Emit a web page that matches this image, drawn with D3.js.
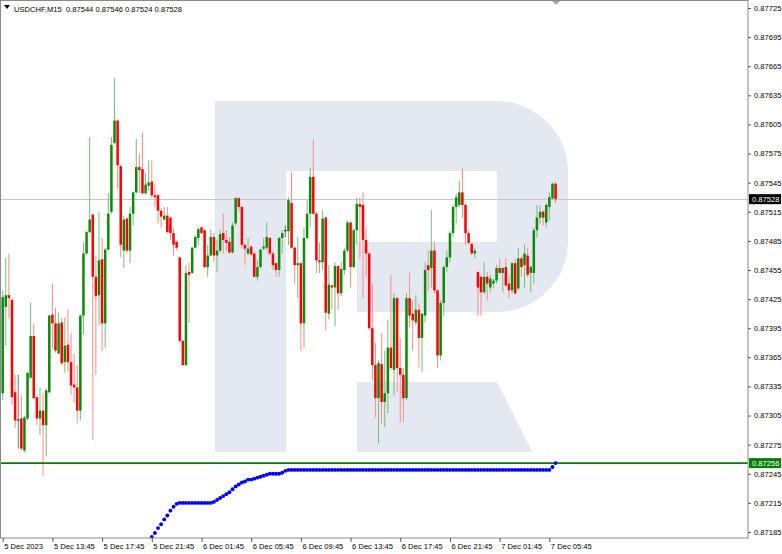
<!DOCTYPE html>
<html><head><meta charset="utf-8">
<script src="https://cdn.jsdelivr.net/npm/d3@7"></script>
<style>body{margin:0;background:#fff}svg{display:block}</style>
</head><body><svg id="c" width="782" height="554"></svg>
<script>
// ---------------- DATA ----------------
const symbol = "USDCHF,M15";
const lastQuote = ["0.87544", "0.87546", "0.87524", "0.87528"];
const startTime = "2023-12-05T09:45";   // first bar, 15-minute bars

const open = [0.87328,0.87417,0.87429,0.87424,0.87329,0.87301,0.87302,0.87269,0.87302,0.87344,
0.87387,0.87324,0.87302,0.87310,0.87295,0.87329,0.87409,0.87400,0.87369,0.87401,
0.87360,0.87378,0.87360,0.87337,0.87334,0.87310,0.87408,0.87472,0.87494,0.87512,
0.87448,0.87429,0.87466,0.87400,0.87476,0.87515,0.87586,0.87609,0.87562,0.87475,
0.87508,0.87475,0.87513,0.87535,0.87561,0.87559,0.87534,0.87542,0.87546,0.87532,
0.87532,0.87516,0.87507,0.87511,0.87509,0.87493,0.87484,0.87468,0.87382,0.87357,
0.87453,0.87452,0.87478,0.87488,0.87499,0.87496,0.87458,0.87470,0.87489,0.87470,
0.87475,0.87493,0.87486,0.87484,0.87473,0.87503,0.87529,0.87520,0.87481,0.87472,
0.87479,0.87472,0.87448,0.87458,0.87477,0.87478,0.87488,0.87472,0.87462,0.87455,
0.87488,0.87496,0.87495,0.87524,0.87478,0.87460,0.87462,0.87400,0.87488,0.87513,
0.87551,0.87513,0.87465,0.87463,0.87509,0.87410,0.87439,0.87437,0.87459,0.87431,
0.87455,0.87475,0.87504,0.87458,0.87496,0.87523,0.87522,0.87486,0.87472,0.87395,
0.87357,0.87323,0.87358,0.87319,0.87328,0.87375,0.87352,0.87426,0.87354,0.87347,
0.87323,0.87426,0.87410,0.87401,0.87414,0.87385,0.87408,0.87460,0.87457,0.87475,
0.87434,0.87367,0.87421,0.87458,0.87468,0.87493,0.87520,0.87522,0.87535,0.87522,
0.87493,0.87482,0.87472,0.87453,0.87448,0.87432,0.87448,0.87437,0.87441,0.87444,
0.87457,0.87452,0.87458,0.87441,0.87434,0.87462,0.87436,0.87467,0.87460,0.87470,
0.87452,0.87452,0.87496,0.87509,0.87515,0.87504,0.87520,0.87529,0.87544];

const high = [0.87434,0.87468,0.87472,0.87426,0.87347,0.87347,0.87326,0.87305,0.87350,0.87421,
0.87400,0.87325,0.87334,0.87328,0.87333,0.87409,0.87441,0.87416,0.87411,0.87406,
0.87406,0.87414,0.87390,0.87369,0.87357,0.87409,0.87483,0.87495,0.87592,0.87513,
0.87470,0.87515,0.87488,0.87478,0.87534,0.87592,0.87653,0.87610,0.87563,0.87511,
0.87509,0.87520,0.87536,0.87590,0.87575,0.87597,0.87555,0.87568,0.87568,0.87544,
0.87534,0.87519,0.87520,0.87520,0.87510,0.87498,0.87485,0.87469,0.87383,0.87460,
0.87463,0.87479,0.87491,0.87499,0.87500,0.87497,0.87481,0.87497,0.87493,0.87486,
0.87496,0.87513,0.87496,0.87489,0.87504,0.87530,0.87530,0.87521,0.87483,0.87488,
0.87481,0.87473,0.87465,0.87477,0.87488,0.87504,0.87489,0.87475,0.87463,0.87489,
0.87496,0.87501,0.87530,0.87556,0.87479,0.87489,0.87463,0.87499,0.87527,0.87560,
0.87590,0.87515,0.87483,0.87517,0.87510,0.87460,0.87440,0.87463,0.87460,0.87463,
0.87478,0.87506,0.87505,0.87498,0.87530,0.87530,0.87535,0.87499,0.87473,0.87441,
0.87380,0.87362,0.87390,0.87372,0.87404,0.87450,0.87431,0.87427,0.87385,0.87354,
0.87431,0.87452,0.87424,0.87429,0.87421,0.87411,0.87463,0.87475,0.87517,0.87484,
0.87435,0.87424,0.87460,0.87475,0.87495,0.87522,0.87534,0.87547,0.87560,0.87524,
0.87495,0.87483,0.87478,0.87454,0.87449,0.87463,0.87453,0.87450,0.87446,0.87460,
0.87467,0.87458,0.87467,0.87450,0.87463,0.87467,0.87478,0.87469,0.87481,0.87478,
0.87460,0.87499,0.87522,0.87522,0.87517,0.87524,0.87535,0.87545,0.87546];

const low = [0.87321,0.87377,0.87405,0.87316,0.87292,0.87271,0.87269,0.87267,0.87300,0.87343,
0.87322,0.87295,0.87285,0.87243,0.87263,0.87328,0.87374,0.87370,0.87368,0.87357,
0.87349,0.87350,0.87326,0.87318,0.87297,0.87300,0.87388,0.87471,0.87493,0.87280,
0.87347,0.87398,0.87372,0.87375,0.87475,0.87513,0.87585,0.87539,0.87468,0.87457,
0.87472,0.87462,0.87501,0.87534,0.87534,0.87533,0.87533,0.87537,0.87529,0.87520,
0.87503,0.87498,0.87506,0.87493,0.87486,0.87470,0.87475,0.87380,0.87356,0.87356,
0.87400,0.87451,0.87477,0.87481,0.87492,0.87457,0.87448,0.87469,0.87463,0.87453,
0.87473,0.87472,0.87475,0.87472,0.87472,0.87501,0.87515,0.87477,0.87460,0.87470,
0.87470,0.87448,0.87444,0.87457,0.87475,0.87475,0.87470,0.87455,0.87448,0.87448,
0.87472,0.87489,0.87481,0.87477,0.87441,0.87426,0.87372,0.87375,0.87487,0.87499,
0.87512,0.87452,0.87452,0.87455,0.87393,0.87404,0.87414,0.87397,0.87414,0.87428,
0.87450,0.87473,0.87437,0.87457,0.87481,0.87467,0.87426,0.87448,0.87393,0.87341,
0.87303,0.87276,0.87297,0.87293,0.87307,0.87352,0.87326,0.87329,0.87298,0.87298,
0.87321,0.87396,0.87372,0.87398,0.87355,0.87350,0.87401,0.87434,0.87437,0.87431,
0.87354,0.87362,0.87408,0.87453,0.87463,0.87489,0.87503,0.87520,0.87509,0.87481,
0.87481,0.87470,0.87467,0.87408,0.87408,0.87431,0.87424,0.87432,0.87436,0.87441,
0.87451,0.87432,0.87438,0.87426,0.87431,0.87429,0.87434,0.87448,0.87437,0.87448,
0.87432,0.87441,0.87488,0.87503,0.87501,0.87499,0.87506,0.87527,0.87524];

const close = [0.87427,0.87429,0.87426,0.87324,0.87300,0.87301,0.87271,0.87303,0.87349,0.87387,
0.87323,0.87302,0.87310,0.87295,0.87331,0.87408,0.87400,0.87372,0.87400,0.87359,
0.87377,0.87360,0.87336,0.87334,0.87310,0.87408,0.87472,0.87494,0.87507,0.87448,
0.87428,0.87465,0.87400,0.87476,0.87513,0.87584,0.87609,0.87563,0.87481,0.87507,
0.87475,0.87513,0.87535,0.87561,0.87558,0.87534,0.87543,0.87545,0.87532,0.87530,
0.87516,0.87510,0.87511,0.87494,0.87493,0.87481,0.87478,0.87382,0.87357,0.87452,
0.87450,0.87478,0.87489,0.87497,0.87493,0.87458,0.87470,0.87489,0.87470,0.87475,
0.87492,0.87486,0.87483,0.87473,0.87501,0.87529,0.87520,0.87481,0.87477,0.87477,
0.87471,0.87448,0.87458,0.87476,0.87479,0.87489,0.87472,0.87460,0.87455,0.87488,
0.87493,0.87496,0.87527,0.87478,0.87460,0.87462,0.87400,0.87488,0.87513,0.87551,
0.87513,0.87465,0.87463,0.87508,0.87411,0.87440,0.87437,0.87459,0.87431,0.87456,
0.87475,0.87504,0.87458,0.87496,0.87523,0.87520,0.87486,0.87472,0.87395,0.87357,
0.87323,0.87359,0.87319,0.87328,0.87375,0.87354,0.87426,0.87354,0.87347,0.87323,
0.87426,0.87408,0.87403,0.87414,0.87385,0.87410,0.87455,0.87455,0.87475,0.87434,
0.87367,0.87421,0.87458,0.87468,0.87493,0.87520,0.87530,0.87535,0.87522,0.87493,
0.87483,0.87472,0.87475,0.87437,0.87432,0.87448,0.87441,0.87446,0.87444,0.87457,
0.87452,0.87457,0.87439,0.87434,0.87462,0.87431,0.87467,0.87458,0.87472,0.87450,
0.87458,0.87496,0.87509,0.87515,0.87509,0.87522,0.87530,0.87544,0.87528];

// dotted indicator (visible from bar 48 onwards; earlier values are below the chart)
const indicatorStart = 48;
const indicator = [0.87180,0.87184,0.87189,0.87193,0.87198,0.87202,0.87207,0.87211,0.87214,
0.87215,0.87215,0.87215,0.87215,0.87215,0.87215,0.87215,0.87215,0.87215,0.87215,0.87215,
0.87216,0.87218,0.87220,0.87222,0.87224,0.87226,0.87229,0.87232,0.87234,0.87236,
0.87237,0.87239,0.87239,0.87240,0.87241,0.87242,0.87243,0.87244,0.87245,0.87245,
0.87245,0.87245,0.87246,0.87248,
0.87249,0.87249,0.87249,0.87249,0.87249,0.87249,0.87249,0.87249,0.87249,0.87249,
0.87249,0.87249,0.87249,0.87249,0.87249,0.87249,0.87249,0.87249,0.87249,0.87249,
0.87249,0.87249,0.87249,0.87249,0.87249,0.87249,0.87249,0.87249,0.87249,0.87249,
0.87249,0.87249,0.87249,0.87249,0.87249,0.87249,0.87249,0.87249,0.87249,0.87249,
0.87249,0.87249,0.87249,0.87249,0.87249,0.87249,0.87249,0.87249,0.87249,0.87249,
0.87249,0.87249,0.87249,0.87249,0.87249,0.87249,0.87249,0.87249,0.87249,0.87249,
0.87249,0.87249,0.87249,0.87249,0.87249,0.87249,0.87249,0.87249,0.87249,0.87249,
0.87249,0.87249,0.87249,0.87249,0.87249,0.87249,0.87249,0.87249,0.87249,0.87249,
0.87249,0.87249,0.87249,0.87249,0.87249,
0.87252,0.87256];

const bidPrice = 0.87528;
const levelPrice = 0.87256;

const priceTicks = [0.87185,0.87215,0.87245,0.87275,0.87305,0.87335,0.87365,0.87395,0.87425,
0.87455,0.87485,0.87515,0.87545,0.87575,0.87605,0.87635,0.87665,0.87695,0.87725];

const timeTickIndex = [0,16,32,48,64,80,96,112,128,144,160,176];
const timeTickLabels = ["5 Dec 2023","5 Dec 13:45","5 Dec 17:45","5 Dec 21:45","6 Dec 01:45",
"6 Dec 05:45","6 Dec 09:45","6 Dec 13:45","6 Dec 17:45","6 Dec 21:45","7 Dec 01:45","7 Dec 05:45"];

// ---------------- CHART ----------------
const W = 782, H = 554;
const PR = 748, PB = 538;     // plot right / bottom edge
const FONT = "'Liberation Sans', Arial, sans-serif";
const FS = 7.6;
const N = open.length;

const svg = d3.select("#c");
const x = d3.scaleLinear().domain([0, N - 1]).range([2.7, 2.7 + 3.106 * (N - 1)]);
const y = d3.scaleLinear().domain([0.87185, 0.87725]).range([532, 8]);

svg.append("rect").attr("width", W).attr("height", H).attr("fill", "#fff");
svg.append("defs").append("clipPath").attr("id", "clip")
  .append("rect").attr("x", 1).attr("y", 1).attr("width", PR - 1).attr("height", PB - 1);

const g = svg.append("g").attr("clip-path", "url(#clip)");

// watermark logo
const wm = g.append("g").attr("fill", "#e4e9f1");
wm.append("path").attr("d", "M215,101 H497 A71,71 0 0 1 568,172 V241 A71,71 0 0 1 497,312 H357 V242 H497 V171 H286 V452 H215 Z");
wm.append("path").attr("d", "M357,382 H497 L532,452 H357 Z");

// bid line
g.append("line").attr("x1", 1).attr("x2", PR).attr("y1", Math.round(y(bidPrice)) + 0.5).attr("y2", Math.round(y(bidPrice)) + 0.5)
  .attr("stroke", "#c6c6c6").attr("stroke-width", 1);

// candles
const bars = d3.range(N).map(i => ({i, o: open[i], h: high[i], l: low[i], c: close[i]}));
const kind = d => d.c > d.o ? "up" : (d.c < d.o ? "down" : "flat");
const bodyCol = {up: "#0b8a0b", down: "#ff0000", flat: "#000000"};
const wickCol = {up: "#79bb79", down: "#ff8a8a", flat: "#777777"};

const cg = g.append("g");
cg.selectAll("line.wick").data(bars).join("line").attr("class", "wick")
  .attr("x1", d => x(d.i)).attr("x2", d => x(d.i))
  .attr("y1", d => y(d.h)).attr("y2", d => y(d.l))
  .attr("stroke", d => wickCol[kind(d)]).attr("stroke-width", 1);
cg.selectAll("rect.body").data(bars).join("rect").attr("class", "body")
  .attr("x", d => x(d.i) - 1.25).attr("width", 2.5)
  .attr("y", d => y(Math.max(d.o, d.c)))
  .attr("height", d => Math.max(1, y(Math.min(d.o, d.c)) - y(Math.max(d.o, d.c))))
  .attr("fill", d => bodyCol[kind(d)]);

// level line
g.append("line").attr("x1", 1).attr("x2", PR).attr("y1", y(levelPrice)).attr("y2", y(levelPrice))
  .attr("stroke", "#008000").attr("stroke-width", 1.6);

// indicator dots
g.append("g").selectAll("circle").data(indicator).join("circle")
  .attr("cx", (d, k) => x(indicatorStart + k)).attr("cy", d => y(d)).attr("r", 1.95)
  .attr("fill", "#0000ff");

// frame
svg.append("rect").attr("x", 0.5).attr("y", 0.5).attr("width", PR - 0.5).attr("height", PB - 0.5)
  .attr("fill", "none").attr("stroke", "#8a8a8a").attr("stroke-width", 1);

// right price axis
const ay = d3.axisRight(y).tickValues(priceTicks).tickSize(3).tickPadding(3).tickFormat(d3.format(".5f"));
svg.append("g").attr("transform", `translate(${PR},0)`).call(ay)
  .attr("font-family", FONT).attr("font-size", FS)
  .call(a => a.select(".domain").remove())
  .call(a => a.selectAll(".tick line").attr("stroke", "#555"))
  .call(a => a.selectAll(".tick text").attr("fill", "#000"));

// bottom time axis
const ax = d3.axisBottom(x).tickValues(timeTickIndex).tickSize(4).tickPadding(2)
  .tickFormat((d, k) => timeTickLabels[k]);
svg.append("g").attr("transform", `translate(0,${PB})`).call(ax)
  .attr("font-family", FONT).attr("font-size", FS)
  .call(a => a.select(".domain").remove())
  .call(a => a.selectAll(".tick line").attr("stroke", "#555"))
  .call(a => a.selectAll(".tick text").attr("text-anchor", "start").attr("x", 1).attr("fill", "#000"));

// price boxes on axis
function priceBox(p, fill) {
  const yy = y(p);
  svg.append("rect").attr("x", PR + 1).attr("y", yy - 5).attr("width", 32).attr("height", 10).attr("fill", fill);
  svg.append("text").attr("x", PR + 4).attr("y", yy).attr("dy", "0.34em")
    .attr("font-family", FONT).attr("font-size", FS).attr("fill", "#fff").text(d3.format(".5f")(p));
}
priceBox(bidPrice, "#000000");
priceBox(levelPrice, "#008000");

// chart-shift marker
svg.append("path").attr("d", `M${x(N - 1) + 0.5},1 l4,0 l-4,4 l-4,-4 z`).attr("fill", "#a8a8a8");

// title
svg.append("path").attr("d", "M4,5 L10,5 L7,9 Z").attr("fill", "#000");
svg.append("text").attr("x", 14).attr("y", 11.5).attr("font-family", FONT).attr("font-size", FS).attr("fill", "#000")
  .attr("xml:space", "preserve")
  .text(symbol + "  " + lastQuote.join(" "));
</script>
</body></html>
